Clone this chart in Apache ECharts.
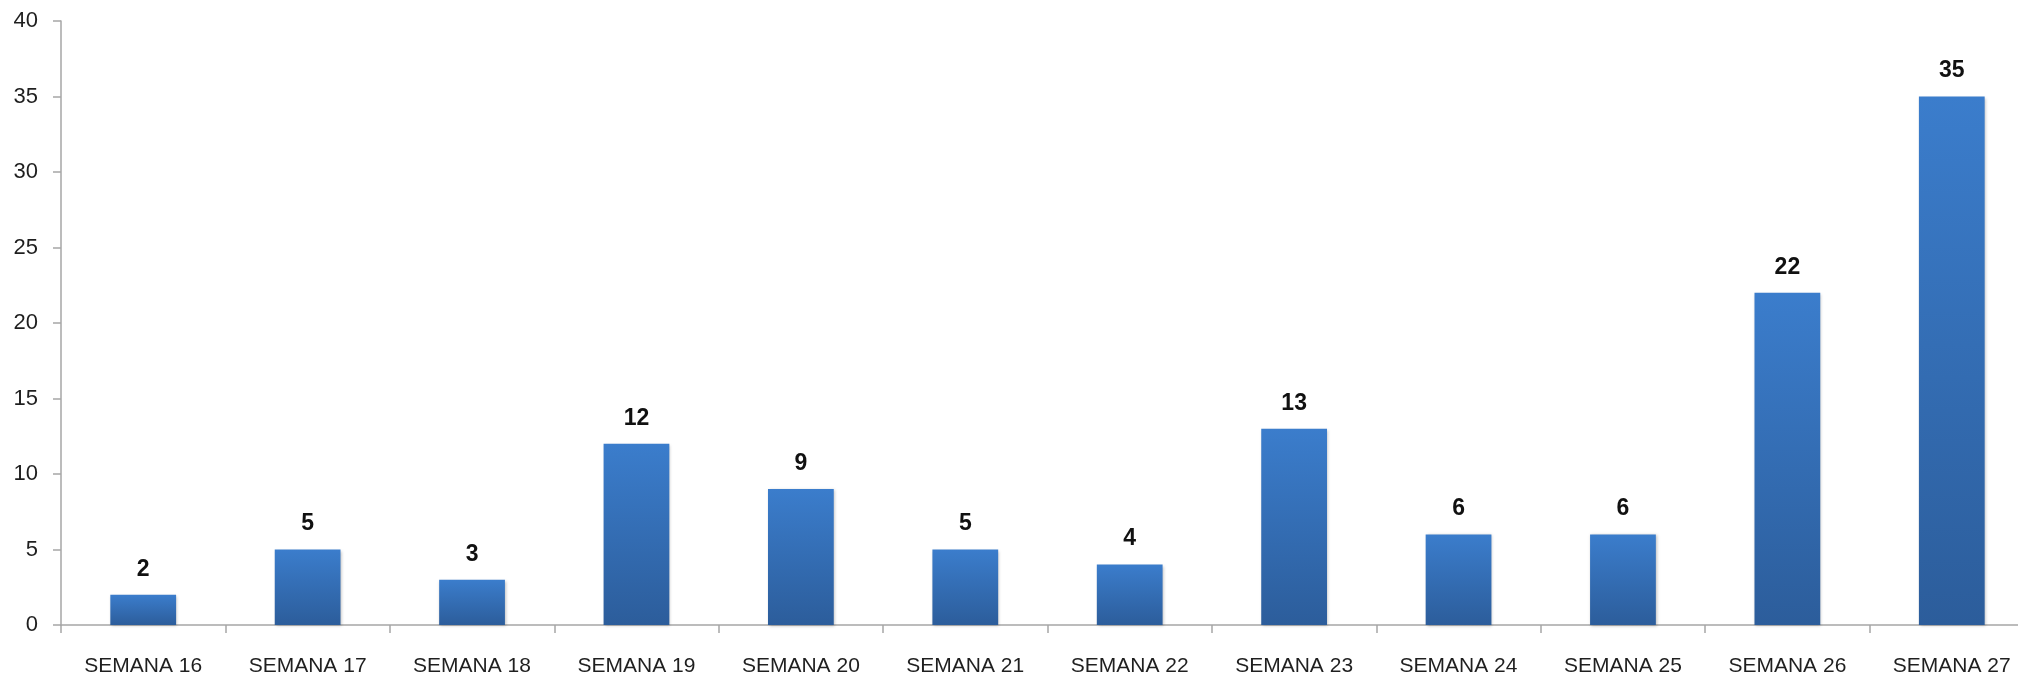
<!DOCTYPE html>
<html>
<head>
<meta charset="utf-8">
<script src="https://cdn.jsdelivr.net/npm/echarts@6/dist/echarts.min.js"></script>
<style>
  html, body { margin: 0; padding: 0; background: #fff; }
  #chart { width: 2018px; height: 678px; }
</style>
</head>
<body>
<div id="chart"></div>
<script>
var categories = ['SEMANA 16', 'SEMANA 17', 'SEMANA 18', 'SEMANA 19', 'SEMANA 20', 'SEMANA 21',
                  'SEMANA 22', 'SEMANA 23', 'SEMANA 24', 'SEMANA 25', 'SEMANA 26', 'SEMANA 27'];
var values = [2, 5, 3, 12, 9, 5, 4, 13, 6, 6, 22, 35];
var yTicks = [0, 40, 5]; // min, max, step

var chartDom = document.getElementById('chart');
var myChart = echarts.init(chartDom);
var axisColor = '#a6a6a6';
var option = {
  animation: false,
  // plot runs a bit past the right edge, like the cropped original
  grid: { left: 61, top: 21, width: 1973, height: 604, outerBoundsMode: 'none', containLabel: false },
  xAxis: {
    type: 'category',
    data: categories,
    axisLine: { lineStyle: { color: axisColor, width: 1.5 } },
    axisTick: { show: true, length: 8, lineStyle: { color: axisColor, width: 1.5 } },
    axisLabel: { color: '#1f1f1f', fontFamily: 'Liberation Sans', fontSize: 21, margin: 31 }
  },
  yAxis: {
    type: 'value',
    min: yTicks[0],
    max: yTicks[1],
    interval: yTicks[2],
    splitLine: { show: false },
    axisLine: { show: true, lineStyle: { color: axisColor, width: 1.5 } },
    axisTick: { show: true, length: 8, lineStyle: { color: axisColor, width: 1.5 } },
    axisLabel: { color: '#1f1f1f', fontFamily: 'Liberation Sans', fontSize: 22, margin: 23 }
  },
  series: [{
    type: 'bar',
    data: values,
    barWidth: '40%',
    itemStyle: {
      color: new echarts.graphic.LinearGradient(0, 0, 0, 1, [
        { offset: 0, color: '#3b7dcc' },
        { offset: 1, color: '#2c5d9b' }
      ]),
      shadowColor: 'rgba(0,0,0,0.25)',
      shadowBlur: 3,
      shadowOffsetX: 1,
      shadowOffsetY: 1
    },
    label: {
      show: true,
      position: 'top',
      distance: 14,
      color: '#111',
      fontFamily: 'Liberation Sans',
      fontWeight: 'bold',
      fontSize: 23
    }
  }]
};
myChart.setOption(option);
</script>
</body>
</html>
